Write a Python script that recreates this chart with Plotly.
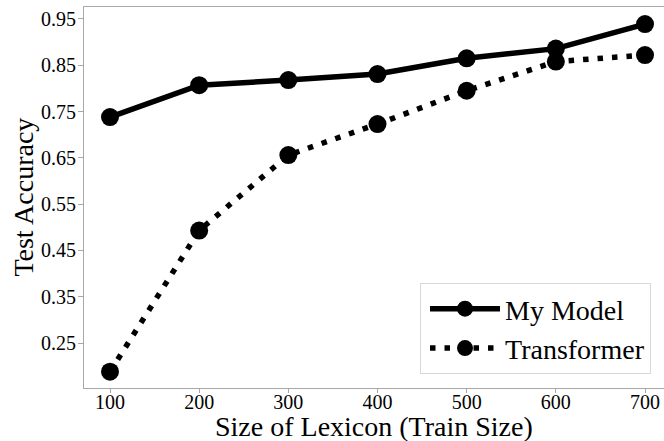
import plotly.graph_objects as go

lexicon_sizes = [100, 200, 300, 400, 500, 600, 700]
my_model_acc = [0.738, 0.807, 0.818, 0.831, 0.865, 0.886, 0.939]
transformer_acc = [0.188, 0.493, 0.656, 0.723, 0.795, 0.858, 0.872]
y_ticks = [0.25, 0.35, 0.45, 0.55, 0.65, 0.75, 0.85, 0.95]
x_ticks = [100, 200, 300, 400, 500, 600, 700]

FONT = "Liberation Serif"
SPINE = "#a8a8a8"

fig = go.Figure()
fig.add_trace(go.Scatter(
    x=lexicon_sizes, y=my_model_acc, name="My Model", mode="lines+markers",
    line=dict(color="black", width=5.5),
    marker=dict(color="black", size=18),
))
fig.add_trace(go.Scatter(
    x=lexicon_sizes, y=transformer_acc, name="Transformer", mode="lines+markers",
    line=dict(color="black", width=5.5, dash="5.5px,9px"),
    marker=dict(color="black", size=18),
))

fig.update_layout(
    width=664, height=441,
    margin=dict(l=84, r=0, t=7, b=53),
    paper_bgcolor="white", plot_bgcolor="white",
    font=dict(family=FONT, color="black"),
    showlegend=True,
    legend=dict(
        x=0.9776, y=0.0367, xanchor="right", yanchor="bottom",
        font=dict(family=FONT, size=28, color="black"),
        bgcolor="white", bordercolor="#d8d8d8", borderwidth=1,
        tracegroupgap=0, indentation=4, itemwidth=70,
    ),
    annotations=[
        dict(text="Size of Lexicon (Train Size)", xref="paper", yref="paper",
             x=0.5, y=-0.058, xanchor="center", yanchor="top", showarrow=False,
             borderpad=0,
             font=dict(family=FONT, size=28, color="black")),
        dict(text="Test Accuracy", xref="paper", yref="paper", textangle=-90,
             x=-0.105, y=0.5, xanchor="center", yanchor="middle", showarrow=False,
             borderpad=0,
             font=dict(family=FONT, size=28, color="black")),
    ],
)
fig.update_xaxes(
    range=[70.84, 721.3], tickvals=x_ticks, ticktext=[str(v) for v in x_ticks],
    showgrid=False, zeroline=False,
    showline=True, linecolor=SPINE, linewidth=1, mirror=True,
    ticks="outside", ticklen=4, tickcolor=SPINE, ticklabelstandoff=-8,
    tickfont=dict(family=FONT, size=20, color="black"),
)
fig.update_yaxes(
    range=[0.1528, 0.9759], tickvals=y_ticks, ticktext=[f"{v:.2f}" for v in y_ticks],
    showgrid=False, zeroline=False,
    showline=True, linecolor=SPINE, linewidth=1, mirror=False,
    ticks="outside", ticklen=5, tickcolor=SPINE, ticklabelstandoff=-2,
    tickfont=dict(family=FONT, size=20, color="black"),
)

fig.write_html(
    "out.html",
    config={"displayModeBar": False},
    post_script="document.body.style.margin='0';document.body.style.overflow='hidden';",
)
